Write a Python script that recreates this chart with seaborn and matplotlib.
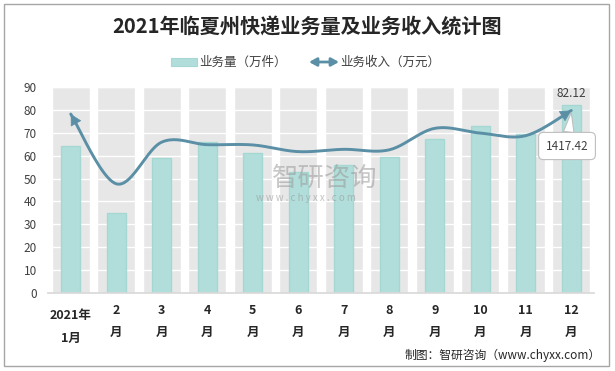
"""
plot.py - 2021年临夏州快递业务量及业务收入统计图
"""

import numpy as np
import pandas as pd
import matplotlib
matplotlib.use('Agg')
import matplotlib.pyplot as plt
import matplotlib.transforms as mtransforms
from matplotlib.patches import Rectangle
import seaborn as sns

# data
months = ['2021年\n1月', '2\n月', '3\n月', '4\n月', '5\n月', '6\n月',
          '7\n月', '8\n月', '9\n月', '10\n月', '11\n月', '12\n月']
volume = [64.1, 34.9, 58.8, 65.8, 61.0, 52.7, 55.8, 59.5, 67.4, 73.1, 69.5, 82.12]   # 万件
revenue = [1390, 848, 1172, 1152, 1150, 1098, 1116, 1112, 1279, 1242, 1222, 1417.42]  # 万元
y_ticks = [0, 10, 20, 30, 40, 50, 60, 70, 80, 90]

BAR = '#b1deda'
BAR_EDGE = '#a6d8d3'
LINE = '#5a8fa6'
BG = '#e7e7e7'

sns.set_theme(style='white')
plt.rcParams['font.family'] = ['Noto Sans CJK SC', 'DejaVu Sans']

W, H = 615, 371
fig = plt.figure(figsize=(W / 100, H / 100), dpi=100)
ax = fig.add_axes([48 / W, 1 - 293 / H, 546 / W, 206 / H])

df = pd.DataFrame({'month': months, 'volume': volume, 'revenue': revenue})
pos = np.arange(len(df))

# grey column background + white grid
ax.bar(pos, [y_ticks[-1]] * len(pos), width=0.84, color=BG, zorder=0.5)
for t in y_ticks[1:]:
    ax.axhline(t, color='white', lw=1, zorder=0.8)

sns.barplot(data=df, x='month', y='volume', color=BAR, saturation=1,
            width=0.42, edgecolor=BAR_EDGE, linewidth=1, ax=ax, zorder=2)

ax.set_xlim(-0.5, 11.5)
ax.set_ylim(0, 90)
ax.set_yticks(y_ticks)
ax.set_yticklabels([str(t) for t in y_ticks], fontsize=8.5, color='#404040')
ax.set_xticks(np.arange(-0.5, 12, 1))
ax.set_xticklabels([])
ax.tick_params(axis='x', length=5, color='#d9d9d9', width=1, direction='out')
ax.tick_params(axis='y', length=0, pad=8)
ax.set_xlabel('')
ax.set_ylabel('')
for s in ['left', 'right', 'top']:
    ax.spines[s].set_visible(False)
ax.spines['bottom'].set_color('#d9d9d9')

# x labels (two lines, bold)
tr = mtransforms.blended_transform_factory(ax.transData, fig.transFigure)
for i, m in enumerate(months):
    top, bot = m.split('\n')
    if i == 0:
        ys = (315, 338)
    else:
        ys = (311, 332)
    ax.text(i, 1 - ys[0] / H, top, transform=tr, ha='center', va='center',
            fontsize=9, fontweight='bold', color='#262626')
    ax.text(i, 1 - ys[1] / H, bot, transform=tr, ha='center', va='center',
            fontsize=9, fontweight='bold', color='#262626')

ax.text(11, 82.12 + 2.2, '82.12', ha='center', va='bottom', fontsize=8.5, color='#404040')

# revenue on hidden secondary axis, smoothed like Excel
ax2 = ax.twinx()
ax2.set_ylim(0, 1600)


def smooth(x, y, n=24):
    p = np.column_stack([x, y]).astype(float)
    p = np.vstack([p[0], p, p[-1]])
    out = []
    t = np.linspace(0, 1, n, endpoint=False)[:, None]
    for i in range(1, len(p) - 2):
        p0, p1, p2, p3 = p[i - 1], p[i], p[i + 1], p[i + 2]
        c1 = p1 + (p2 - p0) / 6
        c2 = p2 - (p3 - p1) / 6
        seg = ((1 - t) ** 3) * p1 + 3 * ((1 - t) ** 2) * t * c1 + 3 * (1 - t) * t ** 2 * c2 + t ** 3 * p2
        out.append(seg)
    out.append(p[-2][None, :])
    out = np.vstack(out)
    return out[:, 0], out[:, 1]


sx, sy = smooth(pos, df['revenue'].values)
sns.lineplot(x=sx, y=sy, sort=False, estimator=None, color=LINE, lw=2.1, ax=ax2)
arrow = dict(arrowstyle='-|>,head_length=0.55,head_width=0.3', color=LINE, lw=0.5,
             shrinkA=0, shrinkB=0, mutation_scale=13)
ax2.annotate('', xy=(sx[0], sy[0]), xytext=(sx[4], sy[4]), arrowprops=arrow)
ax2.annotate('', xy=(sx[-1], sy[-1]), xytext=(sx[-5], sy[-5]), arrowprops=arrow)
ax2.set_yticks([])
ax2.set_ylabel('')
for s in ax2.spines.values():
    s.set_visible(False)

ax2.annotate('1417.42', xy=(11, revenue[-1] - 15), xytext=(567, H - 146),
             textcoords='figure pixels', ha='center', va='center', fontsize=8.5,
             color='#404040', zorder=5,
             bbox=dict(boxstyle='round,pad=0.6,rounding_size=0.4', fc='white', ec='#bfbfbf', lw=0.8),
             arrowprops=dict(arrowstyle='wedge,tail_width=0.9', fc='white', ec='#bfbfbf',
                             lw=0.8, shrinkA=0, shrinkB=0))

# watermark
fig.text(325 / W, 1 - 178 / H, '智研咨询', ha='center', va='center', fontsize=19,
         color='#9a9a9a', alpha=0.55)
fig.text(306 / W, 1 - 198 / H, 'w w w . c h y x x . c o m', ha='center', va='center',
         fontsize=7, color='#9a9a9a', alpha=0.6)

# title
fig.text(307 / W, 1 - 27 / H, '2021年临夏州快递业务量及业务收入统计图', ha='center', va='center',
         fontsize=14.5, fontweight='bold', color='#262626')

# legend
fig.patches.append(Rectangle((171 / W, 1 - 66 / H), 26 / W, 8 / H, transform=fig.transFigure,
                             fc=BAR, ec=BAR_EDGE, lw=0.8))
fig.text(199 / W, 1 - 62 / H, '业务量（万件）', ha='left', va='center', fontsize=9, color='#404040')
ax.annotate('', xy=(339, H - 62), xytext=(309, H - 62), xycoords='figure pixels',
            textcoords='figure pixels', annotation_clip=False,
            arrowprops=dict(arrowstyle='<|-|>,head_length=0.4,head_width=0.22', color=LINE,
                            lw=2.0, shrinkA=0, shrinkB=0, mutation_scale=11))
fig.text(340 / W, 1 - 62 / H, '业务收入（万元）', ha='left', va='center', fontsize=9, color='#404040')

# source
fig.text(601 / W, 1 - 355 / H, '制图：智研咨询（www.chyxx.com）', ha='right', va='center',
         fontsize=8.5, color='#262626')

# outer frame
fig.patches.append(Rectangle((4 / W, 1 - 366 / H), 605 / W, 362 / H, transform=fig.transFigure,
                             fill=False, ec='#a6a6a6', lw=1))

fig.savefig('out.png', dpi=100)
